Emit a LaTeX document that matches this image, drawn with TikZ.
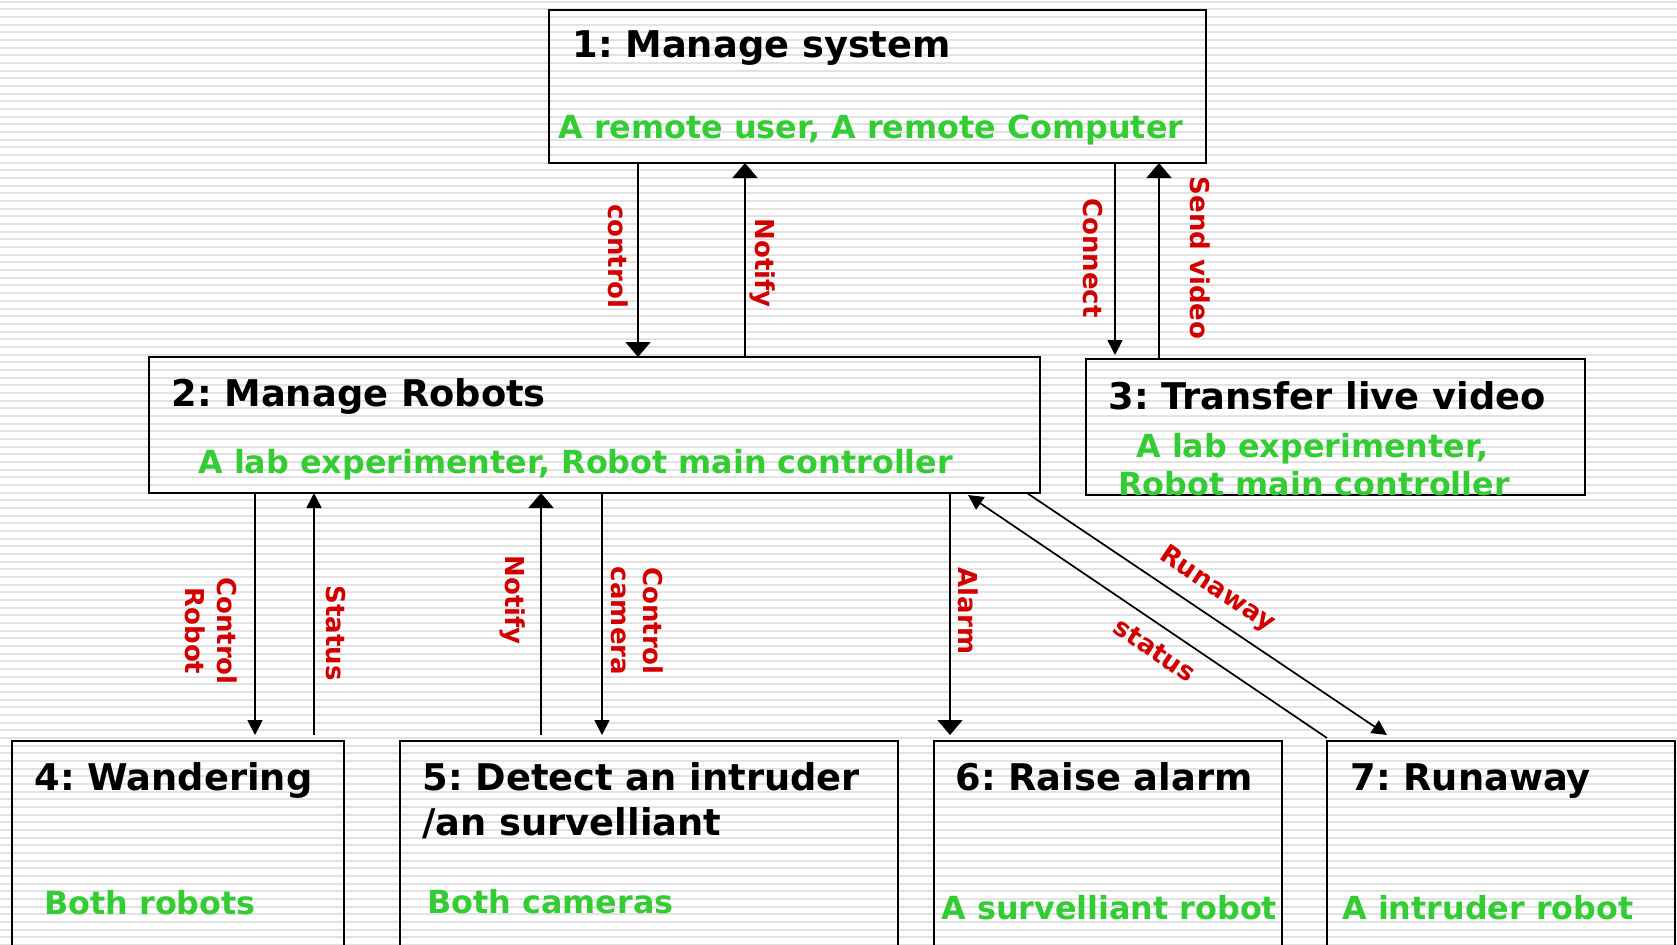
\documentclass[tikz,border=0pt]{standalone}
\usepackage{fontspec}
\setmainfont{DejaVu Sans}
\usetikzlibrary{arrows.meta}
\frenchspacing
\definecolor{mygreen}{RGB}{51,204,51}
\definecolor{myred}{RGB}{210,0,0}
\definecolor{stripe}{RGB}{226,226,226}
\tikzset{
  boxn/.style={draw=black, line width=1.1pt, outer sep=0pt, inner sep=0pt, anchor=north west},
  ttl/.style={font=\fontsize{18.4}{22.5}\selectfont\bfseries, anchor=base west, inner sep=0pt, align=left},
  grn/.style={font=\fontsize{15.9}{19.3}\selectfont\bfseries, text=mygreen, anchor=base west, inner sep=0pt, align=left},
  lbl/.style={font=\fontsize{13}{16}\selectfont\bfseries, text=myred, inner sep=0pt, align=center},
  arr/.style={line width=0.85pt, -{Triangle[width=7.5pt,length=7.5pt]}},
  barr/.style={line width=0.85pt, -{Triangle[width=12.5pt,length=7.5pt]}}
}
\begin{document}
\begin{tikzpicture}[x=0.5pt,y=-0.5pt]
\useasboundingbox (0,0) rectangle (1677,944);
\clip (0,0) rectangle (1677,944);
\fill[white] (0,0) rectangle (1677,944);
\foreach \i in {0,...,123} \draw[stripe, line width=1pt] (0,{1.7+7.67*\i}) -- (1677,{1.7+7.67*\i});

% boxes
\node[boxn, minimum width=328.5pt, minimum height=76.5pt] (b1) at (549,10) {};
\node[boxn, minimum width=445.5pt, minimum height=68pt] (b2) at (149,357) {};
\node[boxn, minimum width=249.5pt, minimum height=68pt] (b3) at (1086,359) {};
\node[boxn, minimum width=166pt, minimum height=120pt] (b4) at (12,741) {};
\node[boxn, minimum width=249pt, minimum height=120pt] (b5) at (400,741) {};
\node[boxn, minimum width=174pt, minimum height=120pt] (b6) at (934,741) {};
\node[boxn, minimum width=174pt, minimum height=120pt] (b7) at (1327,741) {};

% texts
\node[ttl] (t1) at (572,57) {1: Manage system};
\node[grn] (g1) at (558,138) {A remote user, A remote Computer};
\node[ttl] (t2) at (171,406) {2: Manage Robots};
\node[grn] (g2) at (198,473) {A lab experimenter, Robot main controller};
\node[ttl] (t3) at (1108,409) {3: Transfer live video};
\node[grn] (g3a) at (1136,457) {A lab experimenter,};
\node[grn] (g3b) at (1118,495) {Robot main controller};
\node[ttl] (t4) at (34,790) {4: Wandering};
\node[grn] (g4) at (44,914) {Both robots};
\node[ttl] (t5a) at (422,790) {5: Detect an intruder};
\node[ttl] (t5b) at (422,835) {/an survelliant};
\node[grn] (g5) at (427,913) {Both cameras};
\node[ttl] (t6) at (955,790) {6: Raise alarm};
\node[grn] (g6) at (941,919) {A survelliant robot};
\node[ttl] (t7) at (1350,790) {7: Runaway};
\node[grn] (g7) at (1342,919) {A intruder robot};

% x positions of connectors
\coordinate (xa) at (638,0);
\coordinate (xb) at (745,0);
\coordinate (xc) at (1115,0);
\coordinate (xd) at (1159,0);
\coordinate (xe) at (255,0);
\coordinate (xf) at (314,0);
\coordinate (xg) at (541,0);
\coordinate (xh) at (602,0);
\coordinate (xi) at (950,0);
\coordinate (sd1) at (968,495);
\coordinate (sd2) at (1327,738);
\coordinate (rw1) at (1027,493);
\coordinate (rw2) at (1387,735);

% connectors
\draw[barr] (b1.south -| xa) -- (b2.north -| xa);
\draw[barr] (b2.north -| xb) -- (b1.south -| xb);
\draw[arr, shorten >=2pt] (b1.south -| xc) -- (b3.north -| xc);
\draw[barr] (b3.north -| xd) -- (b1.south -| xd);
\draw[arr, shorten >=3pt] (b2.south -| xe) -- (b4.north -| xe);
\draw[arr, shorten <=3pt] (b4.north -| xf) -- (b2.south -| xf);
\draw[barr, shorten <=3pt] (b5.north -| xg) -- (b2.south -| xg);
\draw[arr, shorten >=3pt] (b2.south -| xh) -- (b5.north -| xh);
\draw[barr, shorten >=3pt] (b2.south -| xi) -- (b6.north -| xi);
\draw[arr] (sd2) -- (sd1);
\draw[arr] (rw1) -- (rw2);

% labels
\node[lbl, rotate=-90] (l1) at (618,256) {control};
\node[lbl, rotate=-90] (l2) at (763,263) {Notify};
\node[lbl, rotate=-90] (l3) at (1093,258) {Connect};
\node[lbl, rotate=-90] (l4) at (1200,258) {Send video};
\node[lbl, rotate=-90] (l5) at (211,631) {Control\\Robot};
\node[lbl, rotate=-90] (l6) at (336,633) {Status};
\node[lbl, rotate=-90] (l7) at (513,600) {Notify};
\node[lbl, rotate=-90] (l8) at (637,621) {Control\\camera};
\node[lbl, rotate=-90] (l9) at (968,611) {Alarm};
\node[lbl, rotate=-33.7] (l10) at (1155,650) {status};
\node[lbl, rotate=-33.7] (l11) at (1217,590) {Runaway};
\end{tikzpicture}
\end{document}
